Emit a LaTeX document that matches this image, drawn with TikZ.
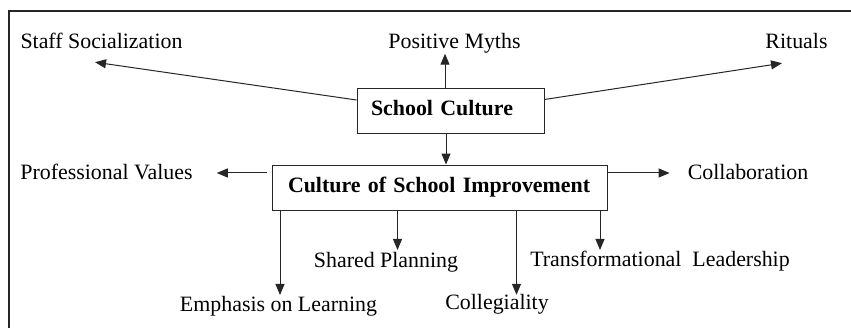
\documentclass[tikz,border=0pt]{standalone}
\usepackage{fontspec}
\setmainfont{Liberation Serif}
\usetikzlibrary{arrows.meta}
\begin{document}
\begin{tikzpicture}[x=1pt, y=-1pt,
  every node/.style={font=\fontsize{21.9}{26}\selectfont, inner sep=0pt, text height=15pt, text depth=4.5pt},
  lbl/.style={anchor=base},
  box/.style={draw, line width=0.9pt, black!85, text=black, align=left, inner ysep=0pt, minimum height=45pt, font=\fontsize{21.9}{26}\selectfont\bfseries},
  arr/.style={-{Triangle[length=11pt,width=9pt]}, line width=1pt, black!85}]
  \useasboundingbox (0,0) rectangle (851,328);
  \draw[line width=1.5pt, black!85] (9,328) -- (9,11) -- (851,11);
  % the two boxes
  \node[box, text width=159pt, inner xsep=14pt] (sc) at (450.5,110.5) {School Culture};
  \node[box, text width=303pt, inner xsep=16pt] (csi) at (439.5,187.5) {Culture of School Improvement};
  % top row
  \node[lbl] (staff) at (101.5,49) {Staff Socialization};
  \node[lbl] (myths) at (454.5,49) {Positive Myths};
  \node[lbl] (rituals) at (796.5,49) {Rituals};
  \draw[arr] ([yshift=10.5pt]sc.west) -- ([xshift=-6.5pt,yshift=-8.5pt]staff.south);
  \draw[arr] ([xshift=-5.5pt]sc.north) -- ([xshift=-5.5pt]sc.north |- myths.south);
  \draw[arr] ([yshift=11pt]sc.east) -- ([xshift=-14.5pt,yshift=-9.5pt]rituals.south);
  \draw[arr] ([xshift=-4.5pt]sc.south) -- ([xshift=-4.5pt]sc.south |- csi.north);
  % middle row
  \node[lbl] (prof) at (106.5,180) {Professional Values};
  \node[lbl] (collab) at (748,180) {Collaboration};
  \draw[arr] ([xshift=-5pt,yshift=14.5pt]csi.west) -- ([xshift=24pt,yshift=14.5pt]csi.west -| prof.east);
  \draw[arr] ([yshift=14.5pt]csi.east) -- ([xshift=-18pt,yshift=14.5pt]csi.east -| collab.west);
  % bottom rows
  \node[lbl] (shared) at (386,267.7) {Shared Planning};
  \node[lbl] (transf) at (660,266.7) {Transformational\ \ Leadership};
  \node[lbl] (emph) at (278.5,311.7) {Emphasis on Learning};
  \node[lbl] (colleg) at (497,310) {Collegiality};
  \draw[arr] ([xshift=1.5pt]emph.north |- csi.south) -- ([xshift=1.5pt,yshift=1.5pt]emph.north);
  \draw[arr] ([xshift=11.5pt]shared.north |- csi.south) -- ([xshift=11.5pt,yshift=2.5pt]shared.north);
  \draw[arr] ([xshift=19.5pt]colleg.north |- csi.south) -- ([xshift=19.5pt]colleg.north);
  \draw[arr] ([xshift=-60pt]transf.north |- csi.south) -- ([xshift=-60pt,yshift=1.5pt]transf.north);
\end{tikzpicture}
\end{document}
